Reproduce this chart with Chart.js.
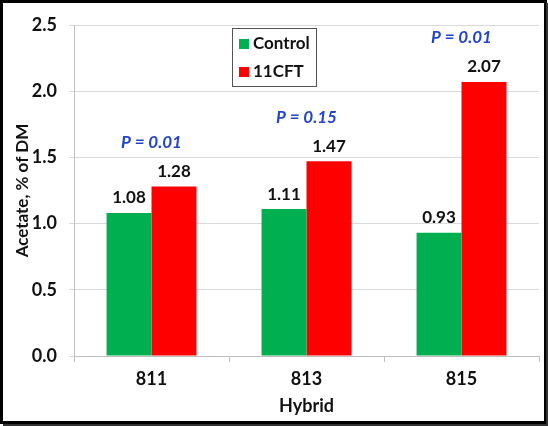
<!DOCTYPE html>
<html>
<head>
<meta charset="utf-8">
<script src="https://cdn.jsdelivr.net/npm/chart.js@4/dist/chart.umd.min.js"></script>
<style>
  html, body { margin: 0; padding: 0; background: #fff; }
  #wrap { width: 548px; height: 426px; position: relative; }
</style>
</head>
<body>
<div id="wrap"><canvas id="acetateChart" width="548" height="426"></canvas></div>
<script>
// chart data
const hybrids = ['811', '813', '815'];
const controlValues = [1.08, 1.11, 0.93];
const cftValues = [1.28, 1.47, 2.07];
const pValues = ['P = 0.01', 'P = 0.15', 'P = 0.01'];
const yTicks = [0, 0.5, 1.0, 1.5, 2.0, 2.5];

const FONT = 'Lato, "Open Sans", sans-serif';
const GREEN = '#00b050';
const RED = '#ff0000';

// value labels, p-values, legend box and outer frame
const overlayPlugin = {
    id: 'overlay',
    afterDatasetsDraw(chart) {
        const c = chart.ctx;
        const yScale = chart.scales.y;
        c.save();
        c.textAlign = 'center';
        c.textBaseline = 'middle';
        c.fillStyle = '#111';
        c.font = 'bold 17px ' + FONT;
        chart.data.datasets.forEach((ds, i) => {
            chart.getDatasetMeta(i).data.forEach((bar, j) => {
                c.fillText(ds.data[j].toFixed(2), bar.x, bar.y - 15);
            });
        });

        // p-values above the taller bar of each pair
        c.font = 'italic bold 17px ' + FONT;
        c.fillStyle = '#2244cc';
        const xScale = chart.scales.x;
        hybrids.forEach((h, j) => {
            const top = yScale.getPixelForValue(Math.max(controlValues[j], cftValues[j]));
            c.fillText(pValues[j], xScale.getPixelForValue(j), top - 44);
        });

        // legend box
        const lx = 232, ly = 28, lw = 84, lh = 58;
        c.fillStyle = '#fff';
        c.fillRect(lx, ly, lw, lh);
        c.strokeStyle = '#555';
        c.lineWidth = 1;
        c.strokeRect(lx + 0.5, ly + 0.5, lw, lh);
        c.textAlign = 'left';
        c.font = 'bold 17px ' + FONT;
        chart.data.datasets.forEach((ds, i) => {
            const cy = ly + 16 + i * 28;
            c.fillStyle = ds.backgroundColor;
            c.fillRect(lx + 7, cy - 5, 10, 10);
            c.fillStyle = '#111';
            c.fillText(ds.label, lx + 21, cy);
        });

        // frame
        c.strokeStyle = '#000';
        c.lineWidth = 3;
        c.strokeRect(1.5, 1.5, 544, 421);
        c.lineWidth = 2;
        c.strokeStyle = '#333';
        c.beginPath();
        c.moveTo(547, 3); c.lineTo(547, 425); c.lineTo(3, 425);
        c.stroke();
        c.restore();
    }
};

const ctx = document.getElementById('acetateChart').getContext('2d');
const acetateChart = new Chart(ctx, {
    type: 'bar',
    data: {
        labels: hybrids,
        datasets: [
            { label: 'Control', data: controlValues, backgroundColor: GREEN },
            { label: '11CFT', data: cftValues, backgroundColor: RED }
        ]
    },
    options: {
        responsive: false,
        animation: false,
        devicePixelRatio: 1,
        layout: { padding: { left: 0, right: 9, top: 25, bottom: 5 } },
        datasets: { bar: { categoryPercentage: 0.58, barPercentage: 1.0 } },
        plugins: { legend: { display: false }, tooltip: { enabled: false } },
        scales: {
            x: {
                grid: { display: true, drawOnChartArea: false, offset: true, color: '#bfbfbf', tickLength: 6 },
                border: { color: '#bfbfbf' },
                ticks: { color: '#111', font: { family: FONT, size: 18, weight: 'bold' }, padding: 6 },
                title: { display: true, text: 'Hybrid', color: '#111', font: { family: FONT, size: 18, weight: 'bold' }, padding: { top: 0 } },
                afterFit(scale) { scale.height = 65; }
            },
            y: {
                min: 0,
                max: 2.5,
                afterBuildTicks(scale) { scale.ticks = yTicks.map(v => ({ value: v })); },
                grid: { color: '#d9d9d9', tickLength: 5 },
                border: { color: '#bfbfbf' },
                ticks: {
                    color: '#111',
                    font: { family: FONT, size: 18, weight: 'bold' },
                    padding: 12,
                    callback: v => Number(v).toFixed(1)
                },
                title: { display: true, text: 'Acetate, % of DM', color: '#111', font: { family: FONT, size: 17, weight: 'bold' }, padding: { top: 12, bottom: 0 } },
                afterFit(scale) { scale.width = 74; }
            }
        }
    },
    plugins: [overlayPlugin]
});
</script>
</body>
</html>
